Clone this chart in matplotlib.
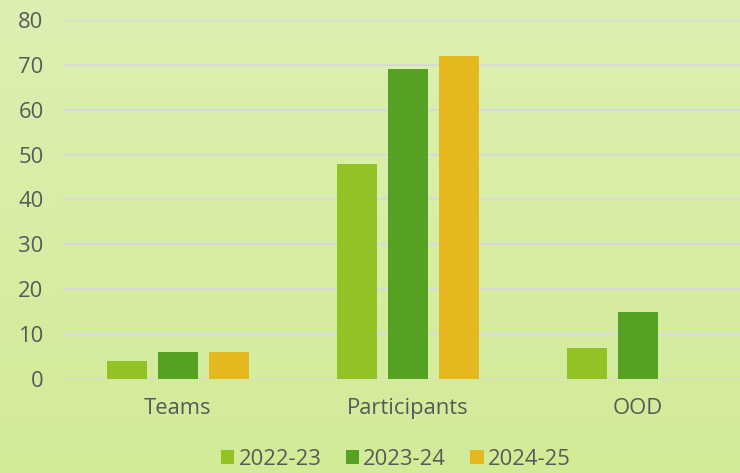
import matplotlib
matplotlib.use("Agg")
import matplotlib.pyplot as plt
import numpy as np
from matplotlib.patches import Patch

plt.rcParams['font.family'] = ['Open Sans', 'DejaVu Sans']

categories = ["Teams", "Participants", "OOD"]
series_names = ["2022-23", "2023-24", "2024-25"]
s2022 = [4, 48, 7]
s2023 = [6, 69, 15]
s2024 = [6, 72, 0]
colors = ["#92c225", "#55a123", "#e6b820"]
yticks = [0, 10, 20, 30, 40, 50, 60, 70, 80]

W, H = 740, 473
fig = plt.figure(figsize=(W/100, H/100), dpi=100)

# gradient background
bg = fig.add_axes([0, 0, 1, 1], zorder=0)
top = np.array([0xdd, 0xf0, 0xb2]) / 255
bot = np.array([0xd2, 0xeb, 0x97]) / 255
t = np.linspace(0, 1, 256)[:, None, None]
grad = top * (1 - t) + bot * t
grad = np.repeat(grad, 2, axis=1)
bg.imshow(grad, aspect="auto", extent=[0, 1, 0, 1])
bg.set_axis_off()

x0, x1 = 63, 753
y0, y1 = 379, 20
ax = fig.add_axes([x0/W, 1 - y0/H, (x1 - x0)/W, (y0 - y1)/H], zorder=1)
ax.patch.set_alpha(0)

x = np.arange(len(categories))
bw = 0.174
off = 0.222
for i, (vals, c) in enumerate(zip([s2022, s2023, s2024], colors)):
    ax.bar(x + (i - 1) * off, vals, width=bw, color=c, zorder=3, label=series_names[i])

fs = 15.8
ax.set_xlim(-0.5, 2.5)
ax.set_ylim(0, 80)
ax.set_yticks(yticks)
ax.set_xticks(x)
ax.set_xticklabels(categories)
for s in ax.spines.values():
    s.set_visible(False)
ax.grid(axis="y", color="#d9d9d9", linewidth=1.5, zorder=0)
ax.tick_params(axis="both", length=0, colors="#595959", labelsize=fs)
ax.tick_params(axis="y", pad=14)
ax.tick_params(axis="x", pad=13.5)

handles = [Patch(facecolor=c) for c in colors]
fig.legend(handles, series_names, loc="center", bbox_to_anchor=(396/W, 1 - 459/H),
           ncol=3, frameon=False, fontsize=fs, labelcolor="#595959",
           handlelength=0.6, handleheight=0.6, handletextpad=0.2, columnspacing=1.1,
           borderpad=0, borderaxespad=0)

fig.savefig("out.png", dpi=100)
